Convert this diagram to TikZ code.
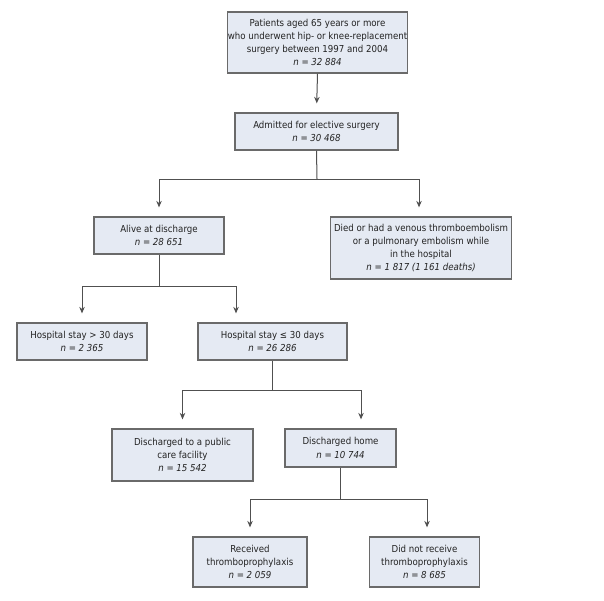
\documentclass[tikz,border=0pt]{standalone}
\usepackage{fontspec}
\setmainfont{DejaVu Sans Condensed}
\usetikzlibrary{arrows.meta}
\definecolor{boxfill}{HTML}{E5EAF3}
\definecolor{boxline}{HTML}{6A6A6A}
\definecolor{lnk}{HTML}{505050}
\definecolor{txt}{HTML}{222222}
\begin{document}
\begin{tikzpicture}[x=1pt,y=-1pt,
  box/.style={draw=boxline,line width=1.3pt,fill=boxfill,align=center,inner sep=0pt,text=txt,
    font=\fontsize{9.6}{13.2}\selectfont},
  conn/.style={draw=lnk,line width=1pt},
  arr/.style={conn,-{Stealth[length=6.5pt,width=5.5pt]},shorten >=9pt}]
\fill[white] (0,0) rectangle (604,600);
\useasboundingbox (0,0) rectangle (604,600);
\node[box,minimum width=179pt,minimum height=61pt] (b1) at (317.5,42.5)
  {Patients aged 65 years or more\\who underwent hip- or knee-replacement\\surgery between 1997 and 2004\\\textit{n = 32 884}};
\node[box,minimum width=163pt,minimum height=37pt] (b2) at (316.5,131.5)
  {Admitted for elective surgery\\\textit{n = 30 468}};
\node[box,minimum width=130pt,minimum height=37pt] (alive) at (159,235.5)
  {Alive at discharge\\\textit{n = 28 651}};
\node[box,minimum width=181pt,minimum height=62pt] (died) at (421,248)
  {Died or had a venous thromboembolism\\or a pulmonary embolism while\\in the hospital\\\textit{n = 1 817 (1 161 deaths)}};
\node[box,minimum width=130pt,minimum height=37pt] (stay1) at (82,341.5)
  {Hospital stay > 30 days\\\textit{n = 2 365}};
\node[box,minimum width=149pt,minimum height=37pt] (stay2) at (272.5,341.5)
  {Hospital stay ≤ 30 days\\\textit{n = 26 286}};
\node[box,minimum width=141pt,minimum height=52pt] (pub) at (182.5,455)
  {Discharged to a public\\care facility\\\textit{n = 15 542}};
\node[box,minimum width=111pt,minimum height=38pt] (home) at (340.5,448)
  {Discharged home\\\textit{n = 10 744}};
\node[box,minimum width=114pt,minimum height=50pt] (rec) at (250,562)
  {Received\\thromboprophylaxis\\\textit{n = 2 059}};
\node[box,minimum width=110pt,minimum height=50pt] (norec) at (424.5,562)
  {Did not receive\\thromboprophylaxis\\\textit{n = 8 685}};
% connectors
\draw[arr] (b1.south) -- (b2.north);
\coordinate (s1) at (317,179);
\draw[conn] (b2.south) -- (s1);
\draw[arr] (s1) -| (alive.north);
\draw[arr] (s1) -| ([xshift=-2pt]died.north);
\coordinate (s2) at (159,286);
\draw[conn] (alive.south) -- (s2);
\draw[arr] (s2) -| (stay1.north);
\draw[arr] (s2) -| ([xshift=-36.5pt]stay2.north);
\coordinate (s3) at (272.5,390);
\draw[conn] (stay2.south) -- (s3);
\draw[arr] (s3) -| (pub.north);
\draw[arr] (s3) -| ([xshift=20.5pt]home.north);
\coordinate (s4) at (340.5,499);
\draw[conn] (home.south) -- (s4);
\draw[arr] (s4) -| (rec.north);
\draw[arr] (s4) -| ([xshift=2.5pt]norec.north);
\end{tikzpicture}
\end{document}
